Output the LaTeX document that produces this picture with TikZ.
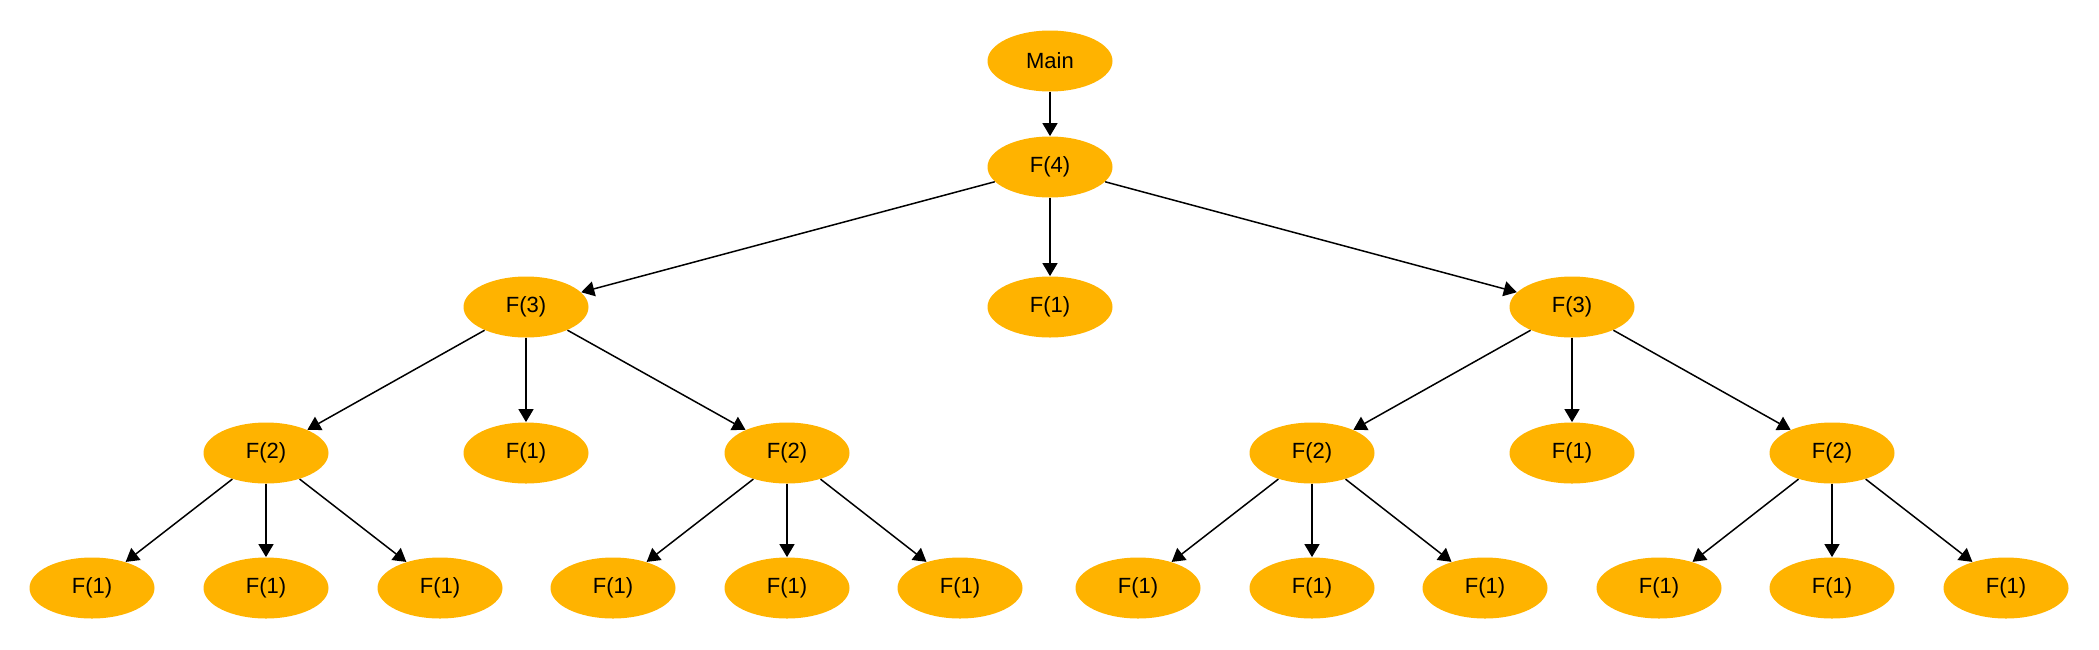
\documentclass[tikz,border=0pt]{standalone}
\usepackage{fontspec}
\setmainfont{Liberation Sans}
\usetikzlibrary{arrows.meta,shapes.geometric}
\definecolor{nodefill}{RGB}{255,179,0}
\begin{document}
\begin{tikzpicture}[x=0.5pt,y=-0.5pt,
  fnode/.style={ellipse,fill=nodefill,draw=none,minimum width=62.5pt,minimum height=30.5pt,inner sep=0pt,font=\fontsize{11}{13}\selectfont},
  link/.style={draw=black,line width=0.75pt,-{Triangle[width=7.5pt,length=6.5pt]}}]
\useasboundingbox[fill=white] (0,0) rectangle (2099,649);
% level 0/1
\node[fnode] (main) at (1050,61) {Main};
\node[fnode] (f4) at (1050,167) {F(4)};
% level 2
\node[fnode] (l3) at (526,307) {F(3)};
\node[fnode] (m1) at (1050,307) {F(1)};
\node[fnode] (r3) at (1572,307) {F(3)};
% level 3
\node[fnode] (l2a) at (266,453) {F(2)};
\node[fnode] (l1) at (526,453) {F(1)};
\node[fnode] (l2b) at (787,453) {F(2)};
\node[fnode] (r2a) at (1312,453) {F(2)};
\node[fnode] (r1) at (1572,453) {F(1)};
\node[fnode] (r2b) at (1832,453) {F(2)};
% level 4
\node[fnode] (a1) at (92,588) {F(1)};
\node[fnode] (a2) at (266,588) {F(1)};
\node[fnode] (a3) at (440,588) {F(1)};
\node[fnode] (b1) at (613,588) {F(1)};
\node[fnode] (b2) at (787,588) {F(1)};
\node[fnode] (b3) at (960,588) {F(1)};
\node[fnode] (c1) at (1138,588) {F(1)};
\node[fnode] (c2) at (1312,588) {F(1)};
\node[fnode] (c3) at (1485,588) {F(1)};
\node[fnode] (d1) at (1659,588) {F(1)};
\node[fnode] (d2) at (1832,588) {F(1)};
\node[fnode] (d3) at (2006,588) {F(1)};
% edges
\draw[link] (main) -- (f4);
\draw[link] (f4) -- (l3);
\draw[link] (f4) -- (m1);
\draw[link] (f4) -- (r3);
\draw[link] (l3) -- (l2a);
\draw[link] (l3) -- (l1);
\draw[link] (l3) -- (l2b);
\draw[link] (r3) -- (r2a);
\draw[link] (r3) -- (r1);
\draw[link] (r3) -- (r2b);
\draw[link] (l2a) -- (a1);
\draw[link] (l2a) -- (a2);
\draw[link] (l2a) -- (a3);
\draw[link] (l2b) -- (b1);
\draw[link] (l2b) -- (b2);
\draw[link] (l2b) -- (b3);
\draw[link] (r2a) -- (c1);
\draw[link] (r2a) -- (c2);
\draw[link] (r2a) -- (c3);
\draw[link] (r2b) -- (d1);
\draw[link] (r2b) -- (d2);
\draw[link] (r2b) -- (d3);
\end{tikzpicture}
\end{document}
